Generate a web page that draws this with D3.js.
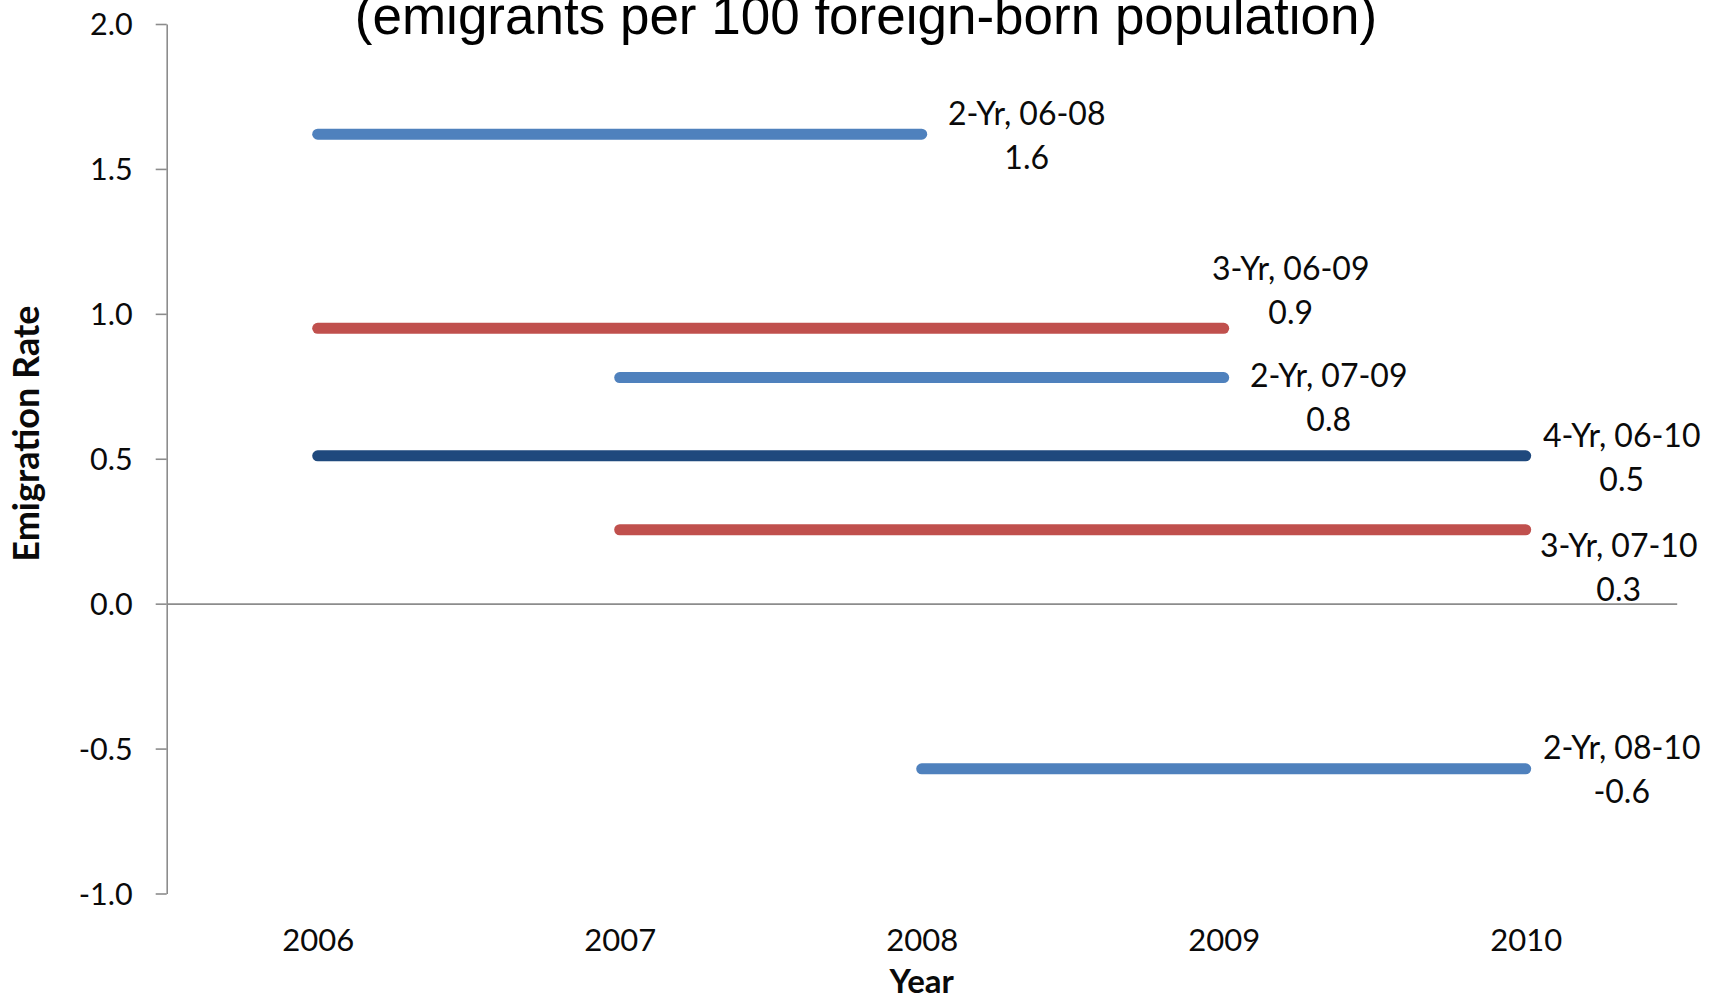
<!DOCTYPE html>
<html>
<head>
<meta charset="utf-8">
<script src="https://cdn.jsdelivr.net/npm/d3@7"></script>
<style>
  html, body { margin: 0; padding: 0; background: #ffffff; }
  svg { display: block; }
</style>
</head>
<body>
<svg id="chart" width="1717" height="1001"></svg>
<script>
// ---------------- data ----------------
const years = [2006, 2007, 2008, 2009, 2010];
const seriesNames = ["2-Yr, 06-08", "3-Yr, 06-09", "2-Yr, 07-09", "4-Yr, 06-10", "3-Yr, 07-10", "2-Yr, 08-10"];
const seriesGroup = ["2-Yr", "3-Yr", "2-Yr", "4-Yr", "3-Yr", "2-Yr"];
const startYears = [2006, 2006, 2007, 2006, 2007, 2008];
const endYears   = [2008, 2009, 2009, 2010, 2010, 2010];
const rates      = [1.62, 0.95, 0.78, 0.51, 0.255, -0.57];
const rateLabels = ["1.6", "0.9", "0.8", "0.5", "0.3", "-0.6"];
const yTicks = [-1.0, -0.5, 0.0, 0.5, 1.0, 1.5, 2.0];
const titleText = "(emigrants per 100 foreign-born population)";
const xTitle = "Year";
const yTitle = "Emigration Rate";

// ---------------- layout / style (not data) ----------------
const groupColor = { "2-Yr": "#4F81BD", "3-Yr": "#C0504D", "4-Yr": "#1F497D" };
// label nudges in px relative to the line's right end: [dx to label centre, dy of first-line cap centre]
const labelNudge = [[105, -20], [67, -59], [105, -2], [96, -20], [93, 16], [96, -21]];
const plot = { left: 166.7, right: 1676.7, top: 24, bottom: 893.5 };
const tickFont = "Lato, 'Open Sans', sans-serif";

const svg = d3.select("#chart");

const x = d3.scalePoint().domain(years).range([plot.left, plot.right]).padding(0.5);
const y = d3.scaleLinear().domain([-1, 2]).range([plot.bottom, plot.top]);

// title (partly cut off at top, as in the reference)
svg.append("text")
  .attr("x", 866).attr("y", 34)
  .attr("text-anchor", "middle")
  .attr("font-family", "'Liberation Sans', Arial, sans-serif")
  .attr("font-size", 53)
  .attr("fill", "#000")
  .text(titleText);

// y axis
const yAxis = d3.axisLeft(y)
  .tickValues(yTicks)
  .tickFormat(d => d.toFixed(1))
  .tickSize(11)
  .tickSizeOuter(0)
  .tickPadding(23);
const gy = svg.append("g").attr("transform", `translate(${plot.left},0)`).call(yAxis);
gy.select(".domain").attr("stroke", "#8c8c8c").attr("stroke-width", 1.6);
gy.selectAll(".tick line").attr("stroke", "#8c8c8c").attr("stroke-width", 1.6);
gy.selectAll(".tick text")
  .attr("font-family", tickFont).attr("font-size", 30.5).attr("fill", "#0a0a0a")
  .attr("dy", "0.36em");

// zero line (x axis line)
const xAxisLine = d3.axisBottom(x).tickSize(0).tickSizeOuter(0).tickFormat("");
const gx0 = svg.append("g").attr("transform", `translate(0,${y(0)})`).call(xAxisLine);
gx0.select(".domain").attr("stroke", "#8c8c8c").attr("stroke-width", 1.6);

// x tick labels (low position)
const xAxisLabels = d3.axisBottom(x).tickSize(0).tickSizeOuter(0).tickPadding(0);
const gx = svg.append("g").attr("transform", `translate(0,${plot.bottom})`).call(xAxisLabels);
gx.select(".domain").remove();
gx.selectAll(".tick text")
  .attr("font-family", tickFont).attr("font-size", 31).attr("fill", "#0a0a0a")
  .attr("dy", null).attr("y", 57);

// axis titles
svg.append("text")
  .attr("x", x(2008)).attr("y", 993)
  .attr("text-anchor", "middle")
  .attr("font-family", tickFont).attr("font-weight", "bold")
  .attr("font-size", 33).attr("fill", "#0a0a0a")
  .text(xTitle);

svg.append("text")
  .attr("transform", `translate(39,${433.6}) rotate(-90)`)
  .attr("text-anchor", "middle")
  .attr("font-family", tickFont).attr("font-weight", "bold")
  .attr("font-size", 36).attr("fill", "#0a0a0a")
  .text(yTitle);

// range lines
const idx = d3.range(seriesNames.length);
svg.append("g").selectAll("line").data(idx).join("line")
  .attr("x1", i => x(startYears[i]))
  .attr("x2", i => x(endYears[i]))
  .attr("y1", i => y(rates[i]))
  .attr("y2", i => y(rates[i]))
  .attr("stroke", i => groupColor[seriesGroup[i]])
  .attr("stroke-width", 11)
  .attr("stroke-linecap", "round");

// data labels
const lab = svg.append("g").selectAll("text").data(idx).join("text")
  .attr("text-anchor", "middle")
  .attr("font-family", tickFont).attr("font-size", 32).attr("fill", "#0a0a0a")
  .attr("x", i => x(endYears[i]) + labelNudge[i][0])
  .attr("y", i => y(rates[i]) + labelNudge[i][1] + 11);
lab.append("tspan")
  .attr("x", i => x(endYears[i]) + labelNudge[i][0])
  .text(i => seriesNames[i]);
lab.append("tspan")
  .attr("x", i => x(endYears[i]) + labelNudge[i][0])
  .attr("dy", 44)
  .text(i => rateLabels[i]);
</script>
</body>
</html>
